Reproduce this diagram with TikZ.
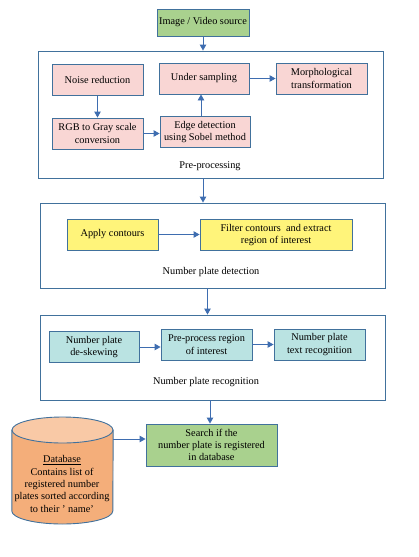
\documentclass[tikz,border=0pt]{standalone}
\usepackage{fontspec}
\setmainfont{Liberation Serif}
\usetikzlibrary{arrows.meta}
\definecolor{lineblue}{HTML}{41719C}
\definecolor{arrowblue}{HTML}{3E6DB0}
\definecolor{srcgreen}{HTML}{A9D18E}
\definecolor{prepink}{HTML}{F9D6D4}
\definecolor{detyellow}{HTML}{FFF47A}
\definecolor{reccyan}{HTML}{BAE3E2}
\definecolor{dborange}{HTML}{F4AE7A}
\definecolor{dbtop}{HTML}{F9C9A6}
\begin{document}
\begin{tikzpicture}[x=1pt, y=-1pt,
        every node/.style={font=\fontsize{10.3}{12.3}\selectfont, align=center, inner sep=1pt},
        stepbox/.style={draw=lineblue, line width=0.9pt, minimum width=#1, minimum height=31pt},
        stagebox/.style={draw=lineblue, line width=0.9pt, minimum width=345pt, minimum height=#1},
        flow/.style={draw=arrowblue, line width=0.9pt, -{Triangle[length=6pt,width=6.5pt]}}]
                \useasboundingbox (0,0) rectangle (418,557);
                \node[stepbox=92pt, minimum height=27pt, fill=srcgreen] (src) at (203,22.5) {Image / Video source};
                \node[stagebox=127pt] (pre) at (210.5,114.5) {};
                \node (prelabel) at (210,166) {Pre-processing};
                \node[stepbox=91pt, fill=prepink] (noise) at (97.5,80) {Noise reduction};
                \node[stepbox=91pt, fill=prepink] (rgb) at (97.5,133.5) {RGB to Gray scale\\conversion};
                \node[stepbox=90pt, fill=prepink] (under) at (204,78.5) {Under sampling};
                \node[stepbox=91pt, fill=prepink] (morph) at (321.5,78.5) {Morphological\\transformation};
                \node[stepbox=90pt, fill=prepink] (edge) at (205,132) {Edge detection\\using Sobel method};
                \node[stagebox=85pt] (det) at (212.5,245.5) {};
                \node (detlabel) at (211,272) {Number plate detection};
                \node[stepbox=91pt, fill=detyellow] (apply) at (112.5,234.5) {Apply contours};
                \node[stepbox=152pt, fill=detyellow] (filter) at (276,235) {Filter contours~ and extract\\region of interest};
                \node[stagebox=85pt] (rec) at (212.5,357.5) {};
                \node (reclabel) at (206,382) {Number plate recognition};
                \node[stepbox=90pt, fill=reccyan] (deskew) at (94,347) {Number plate\\de-skewing};
                \node[stepbox=91pt, fill=reccyan] (roi) at (206.5,344.5) {Pre-process region\\of interest};
                \node[stepbox=91pt, fill=reccyan] (textrec) at (319.5,344.5) {Number plate\\text recognition};
                \node[stepbox=131pt, minimum height=42pt, fill=srcgreen] (search) at (211.5,445) {Search if the\\number plate is registered\\in database};
                \node[minimum width=101pt, minimum height=107pt] (db) at (62.5,470.5) {};
                \filldraw[draw=lineblue, line width=0.9pt, fill=dborange] (db.west |- 0,430) -- (db.west |- 0,511) arc[start angle=180, end angle=360, x radius=50.5pt, y radius=13pt] -- (db.east |- 0,430) -- cycle;
                \filldraw[draw=lineblue, line width=0.9pt, fill=dbtop] (db.north |- 0,430) ellipse [x radius=50.5pt, y radius=13pt];
                \node (dbtext) at (62,484) {\underline{Database}\\Contains list of\\registered number\\plates sorted according\\to their ' name'};
                \draw[flow] (src.south) -- (src.south |- pre.north);
                \draw[flow] (noise.south) -- (rgb.north);
                \draw[flow] (rgb.east) -- (edge.west |- rgb.east);
                \draw[flow] ([xshift=-4pt]edge.north) -- ([xshift=-4pt]edge.north |- under.south);
                \draw[flow] (under.east) -- (morph.west);
                \draw[flow] (src.south |- pre.south) -- (src.south |- det.north);
                \draw[flow] (apply.east) -- (filter.west |- apply.east);
                \draw[flow] ([xshift=-5pt]det.south) -- ([xshift=-5pt]det.south |- rec.north);
                \draw[flow] (deskew.east) -- (roi.west |- deskew.east);
                \draw[flow] (roi.east) -- (textrec.west);
                \draw[flow] ([xshift=-1.5pt]search.north |- rec.south) -- ([xshift=-1.5pt]search.north);
                \draw[flow] (db.east |- 0,439) -- (search.west |- 0,439);
            \end{tikzpicture}
\end{document}
